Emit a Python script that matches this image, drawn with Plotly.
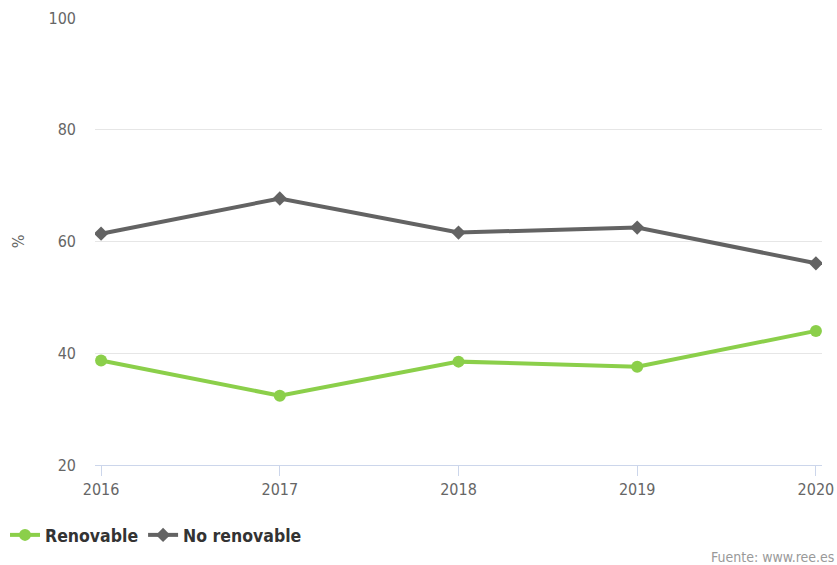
import plotly.graph_objects as go

years = [2016, 2017, 2018, 2019, 2020]
renovable = [38.7, 32.4, 38.5, 37.6, 44.0]
no_renovable = [61.4, 67.7, 61.6, 62.5, 56.1]
y_ticks = [20, 40, 60, 80, 100]

FONT = "DejaVu Sans Condensed, DejaVu Sans, sans-serif"
W, H, L, R, T, B = 837, 565, 95, 15, 18, 100
PW, PH = W - L - R, H - T - B

fig = go.Figure()
fig.add_trace(go.Scatter(
    x=years, y=renovable, name="Renovable", mode="lines+markers",
    line=dict(color="#8bcf4a", width=4),
    marker=dict(symbol="circle", size=12, color="#8bcf4a"),
))
fig.add_trace(go.Scatter(
    x=years, y=no_renovable, name="No renovable", mode="lines+markers",
    line=dict(color="#636363", width=4),
    marker=dict(symbol="diamond", size=11, color="#636363"),
))

fig.update_layout(
    width=W, height=H,
    margin=dict(l=L, r=R, t=T, b=B, autoexpand=False),
    paper_bgcolor="white", plot_bgcolor="white",
    font=dict(family=FONT, size=16, color="#666666"),
    showlegend=True,
    legend=dict(orientation="h", x=5 / W, xref="container", y=(H - 535) / H, yref="container",
                yanchor="middle", xanchor="left",
                font=dict(family=FONT, size=17.5, color="#333333", weight="bold"),
                itemwidth=30, tracegroupgap=0),
    xaxis=dict(
        range=[2015.966, 2020.034], tickvals=years, ticktext=[str(y) for y in years],
        showgrid=False, zeroline=False, showline=True, linecolor="#ccd6eb", linewidth=1,
        ticks="outside", ticklen=10, tickcolor="#ccd6eb", tickfont=dict(size=16, color="#666666"),
        automargin=False,
    ),
    yaxis=dict(
        range=[20, 100], tickvals=y_ticks, showgrid=True, gridcolor="#e6e6e6", gridwidth=1,
        zeroline=False, showline=False, ticks="", ticklabelstandoff=18,
        tickfont=dict(size=16, color="#666666"),
        title=dict(text="%", font=dict(size=16, color="#666666"), standoff=19),
        automargin=False,
    ),
    annotations=[dict(text="Fuente: www.ree.es", x=1.0 + (R - 1) / PW, xref="paper", xanchor="right",
                      y=-(557 - (H - B)) / PH, yref="paper", yanchor="middle", showarrow=False,
                      font=dict(family=FONT, size=14, color="#999999"))],
)

fig.write_html("out.html")
